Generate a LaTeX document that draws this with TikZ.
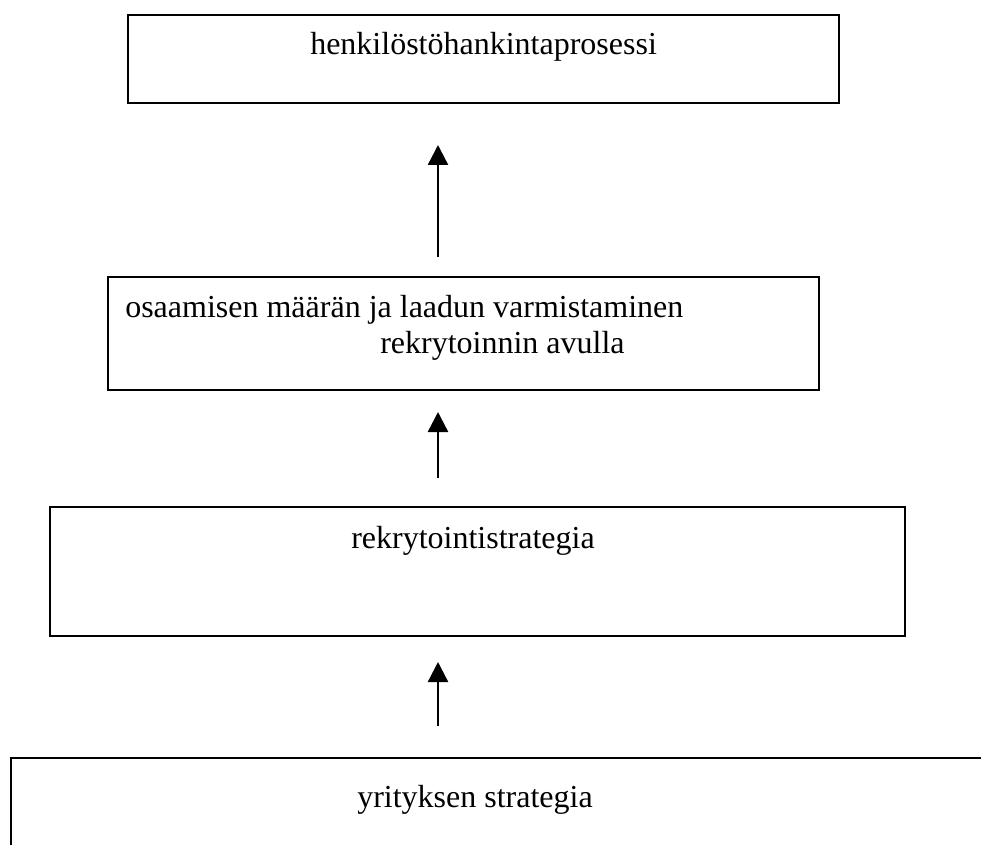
\documentclass[tikz,border=0pt]{standalone}
\usepackage{fontspec}
\setmainfont{Liberation Serif}
\usetikzlibrary{arrows.meta}
\begin{document}
\begin{tikzpicture}[x=0.75pt,y=-0.75pt,
  box/.style={draw,line width=1.3pt,anchor=north west,inner sep=0pt},
  lbl/.style={anchor=base west,inner sep=0pt,font=\fontsize{24}{28}\selectfont},
  up/.style={line width=1.8pt,-{Triangle[length=15pt,width=15pt]}}]
\useasboundingbox (0,0) rectangle (981,845);
\clip (0,0) rectangle (981,845);
% boxes
\node[box,minimum width=533.25pt,minimum height=66pt] (b1) at (127,14) {};
\node[box,minimum width=533.25pt,minimum height=84.75pt] (b2) at (107,276) {};
\node[box,minimum width=641.25pt,minimum height=96.75pt] (b3) at (49,506) {};
\node[box,minimum width=800pt,minimum height=150pt] (b4) at (10,757) {};
% labels
\node[lbl] (t1) at (310,55) {henkilöstöhankintaprosessi};
\node[lbl] (t2a) at (125,317) {osaamisen määrän ja laadun varmistaminen};
\node[lbl] (t2b) at (380,353) {rekrytoinnin avulla};
\node[lbl] (t3) at (351,548) {rekrytointistrategia};
\node[lbl] (t4) at (357,807) {yrityksen strategia};
% arrow end points
\coordinate (a1s) at (438,257); \coordinate (a1e) at (438,145);
\coordinate (a2s) at (438,478); \coordinate (a2e) at (438,412);
\coordinate (a3s) at (438,726); \coordinate (a3e) at (438,662);
\draw[up] (a1s) -- (a1e);
\draw[up] (a2s) -- (a2e);
\draw[up] (a3s) -- (a3e);
\end{tikzpicture}
\end{document}
